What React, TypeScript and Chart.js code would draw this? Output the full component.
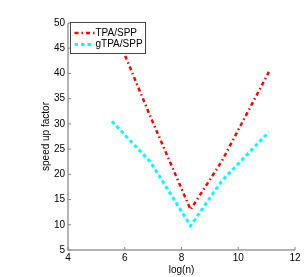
import React, { useEffect, useRef } from "react";
import { Chart, registerables } from "chart.js";

Chart.register(...registerables);

const seriesNames = ["TPA/SPP", "gTPA/SPP"];
const logN = [5.55, 6.9, 8.32, 9.42, 11.08];
const tpaValues = [49.8, 31.5, 13.0, 22.6, 40.3];
const gtpaValues = [30.5, 22.5, 9.8, 18.7, 28.4];
const xTicks = [4, 6, 8, 10, 12];
const yTicks = [5, 10, 15, 20, 25, 30, 35, 40, 45, 50];
const xTitle = "log(n)";
const yTitle = "speed up factor";

const FONT = "'Liberation Sans', Arial, Helvetica, sans-serif";

const decoPlugin = {
  id: "deco",
  afterDatasetsDraw(chart: any) {
    const ctx = chart.ctx;
    const xs = chart.scales.x;
    const ys = chart.scales.y;
    const area = chart.chartArea;
    ctx.save();
    // axes lines
    ctx.strokeStyle = "#b4b4b4";
    ctx.lineWidth = 2;
    ctx.beginPath();
    ctx.moveTo(area.left, area.top);
    ctx.lineTo(area.left, area.bottom);
    ctx.lineTo(area.right, area.bottom);
    ctx.stroke();
    // inward ticks
    ctx.lineWidth = 1;
    ctx.strokeStyle = "#888888";
    ctx.beginPath();
    xTicks.forEach((v) => {
      const px = xs.getPixelForValue(v);
      ctx.moveTo(px, area.bottom);
      ctx.lineTo(px, area.bottom - 3);
    });
    yTicks.forEach((v) => {
      const py = ys.getPixelForValue(v);
      ctx.moveTo(area.left, py);
      ctx.lineTo(area.left + 3, py);
    });
    ctx.stroke();
    // legend
    const lx = area.left + 2.5;
    const ly = area.top - 0.5;
    const lw = 75;
    const lh = 31;
    ctx.fillStyle = "#ffffff";
    ctx.fillRect(lx, ly, lw, lh);
    ctx.strokeStyle = "#444444";
    ctx.lineWidth = 1;
    ctx.strokeRect(lx, ly, lw, lh);
    chart.data.datasets.forEach((ds: any, i: number) => {
      const cy = ly + 10.5 + i * 11.5;
      ctx.strokeStyle = ds.borderColor;
      ctx.lineWidth = ds.borderWidth;
      ctx.setLineDash(ds.borderDash);
      ctx.beginPath();
      ctx.moveTo(lx + 4, cy);
      ctx.lineTo(lx + 24, cy);
      ctx.stroke();
      ctx.setLineDash([]);
      ctx.fillStyle = "#000000";
      ctx.font = "10px " + FONT;
      ctx.textBaseline = "middle";
      ctx.textAlign = "left";
      ctx.fillText(ds.label, lx + 25, cy);
    });
    ctx.restore();
  },
};

export default function App() {
  const ref = useRef<HTMLCanvasElement | null>(null);
  useEffect(() => {
    document.body.style.margin = "0";
    const canvas = ref.current;
    if (!canvas) return;
    const chart = new Chart(canvas, {
      type: "line",
      data: {
        datasets: [
          {
            label: seriesNames[0],
            data: logN.map((x, i) => ({ x, y: tpaValues[i] })),
            borderColor: "#ff0000",
            borderWidth: 2.5,
            borderDash: [4, 3, 1.5, 3],
            pointRadius: 0,
            fill: false,
            tension: 0,
          },
          {
            label: seriesNames[1],
            data: logN.map((x, i) => ({ x, y: gtpaValues[i] })),
            borderColor: "#00ffff",
            borderWidth: 3,
            borderDash: [3.5, 3],
            pointRadius: 0,
            fill: false,
            tension: 0,
          },
        ],
      },
      options: {
        animation: false,
        responsive: false,
        maintainAspectRatio: false,
        devicePixelRatio: 1,
        layout: { padding: { top: 23, right: 9, left: 0, bottom: 0 } },
        plugins: {
          legend: { display: false },
          tooltip: { enabled: false },
        },
        scales: {
          x: {
            type: "linear",
            min: 4,
            max: 12,
            afterBuildTicks: (s: any) => {
              s.ticks = xTicks.map((v) => ({ value: v }));
            },
            afterFit: (s: any) => {
              s.height = 27;
            },
            grid: { display: false, drawTicks: false },
            border: { display: false },
            ticks: {
              color: "#000",
              padding: 2,
              font: { size: 10, family: FONT },
              maxRotation: 0,
              autoSkip: false,
            },
            title: {
              display: true,
              text: xTitle,
              color: "#000",
              font: { size: 10, family: FONT },
              padding: { top: 0, bottom: 1 },
            },
          },
          y: {
            type: "linear",
            min: 5,
            max: 50,
            afterBuildTicks: (s: any) => {
              s.ticks = yTicks.map((v) => ({ value: v }));
            },
            afterFit: (s: any) => {
              s.width = 68;
            },
            grid: { display: false, drawTicks: false },
            border: { display: false },
            ticks: {
              color: "#000",
              padding: 3,
              font: { size: 10, family: FONT },
              autoSkip: false,
            },
            title: {
              display: true,
              text: yTitle,
              color: "#000",
              font: { size: 10, family: FONT },
              padding: { top: 40, bottom: 0 },
            },
          },
        },
      },
      plugins: [decoPlugin],
    } as any);
    return () => chart.destroy();
  }, []);
  return (
    <div style={{ width: 304, height: 277, background: "#fff" }}>
      <canvas ref={ref} width={304} height={277} style={{ display: "block" }} />
    </div>
  );
}
